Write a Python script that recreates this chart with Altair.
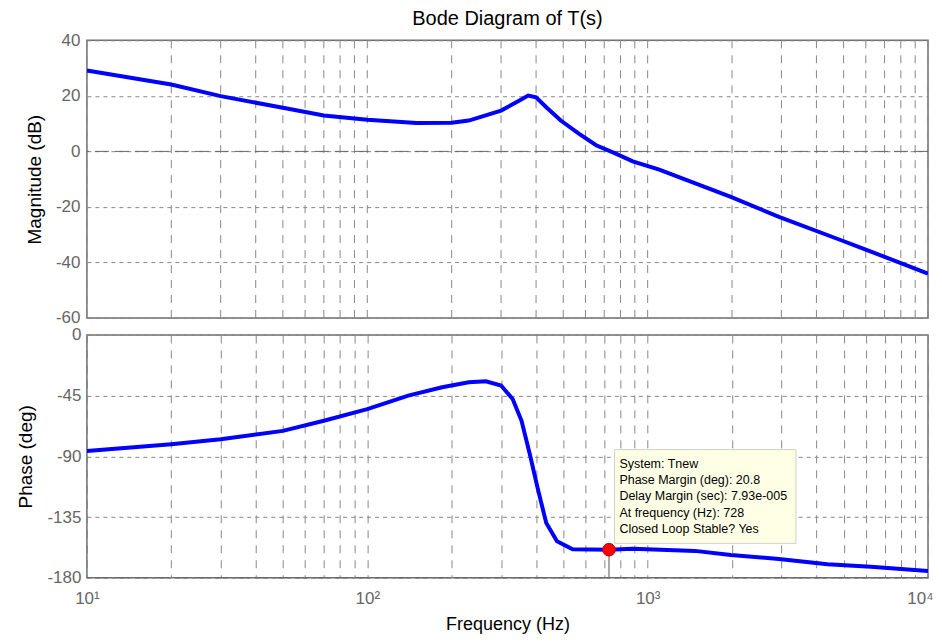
import altair as alt
import pandas as pd

# ---- data ----
freq_mag = [10, 20, 30, 50, 70, 100, 150, 200, 230, 300, 340, 375, 400, 435, 490, 570, 655, 770, 885, 1100, 1980, 2940, 4900, 5870, 10000]
mag_db = [29.1, 24.1, 19.9, 15.7, 12.9, 11.4, 10.2, 10.3, 11.1, 14.7, 17.7, 20.1, 19.5, 15.9, 11.1, 6.3, 2.2, -0.8, -3.6, -6.6, -16.4, -23.6, -32.0, -35.0, -44.0]

freq_ph = [10, 20, 30, 50, 70, 100, 140, 185, 230, 265, 300, 330, 355, 380, 405, 435, 475, 540, 728, 885, 1475, 1980, 2940, 4380, 6250, 10000]
phase_deg = [-86, -81, -77.3, -71.1, -63.6, -55, -45, -38.8, -35, -34.3, -37.5, -47.5, -63.6, -88.5, -113.4, -139.5, -153, -158.9, -159.2, -158.6, -160.1, -163.1, -166.1, -170, -171.8, -175]

pm_freq = [728]
pm_phase = [-159.2]

mag_ticks = [-60, -40, -20, 0, 20, 40]
phase_ticks = [-180, -135, -90, -45, 0]
decade_labels = {10: "10¹", 100: "10²", 1000: "10³", 10000: "10⁴"}

tip_lines = ["System: Tnew", "Phase Margin (deg): 20.8", "Delay Margin (sec): 7.93e-005",
             "At frequency (Hz): 728", "Closed Loop Stable? Yes"]
tip_box_freq = [762, 3381]
tip_box_phase = [-85.0, -154.5]
tip_text_freq = 793
tip_text_phase = [-95.5, -107.6, -119.7, -131.8, -143.9]

# ---- helpers ----
grid_vals = [m * 10 ** e for e in (1, 2, 3) for m in range(1, 10)] + [10000]
label_expr = " : ".join(f"datum.value == {k} ? '{v}'" for k, v in decade_labels.items()) + " : ''"

FONT = "Liberation Sans"
W = 842

xscale = alt.Scale(type="log", domain=[10, 10000], nice=False)

mag_df = pd.DataFrame({"f": freq_mag, "v": mag_db})
ph_df = pd.DataFrame({"f": freq_ph, "v": phase_deg})
pm_df = pd.DataFrame({"f": pm_freq, "v": pm_phase, "base": [-180]})
box_df = pd.DataFrame({"f1": [tip_box_freq[0]], "f2": [tip_box_freq[1]],
                       "p1": [tip_box_phase[0]], "p2": [tip_box_phase[1]]})
txt_df = pd.DataFrame({"f": [tip_text_freq] * len(tip_lines), "v": tip_text_phase, "t": tip_lines})
vgrid_df = pd.DataFrame({"f": grid_vals})

x_top = alt.X("f:Q", scale=xscale, axis=None)
x_bot = alt.X("f:Q", scale=xscale,
              axis=alt.Axis(values=grid_vals, labelExpr=label_expr, ticks=False,
                            title="Frequency  (Hz)", titlePadding=9, labelPadding=13,
                            labelFontSize=17, titleFontSize=18, labelFlush=False, labelOverlap=False,
                            labelAlign={"condition": {"test": "datum.value == 10000", "value": "right"},
                                        "value": "center"},
                            labelOffset={"condition": {"test": "datum.value == 10000", "value": 5},
                                         "value": 0},
                            grid=True, gridDash=[8, 7], gridColor="#888", domain=False))

y_mag = alt.Y("v:Q", scale=alt.Scale(domain=[-60, 40], nice=False),
              axis=alt.Axis(values=mag_ticks, title="Magnitude (dB)", titlePadding=11,
                            labelExpr="'' + datum.value",
                            grid=True, gridDash=[4, 4], gridColor="#888", ticks=False,
                            domain=False, labelPadding=7))
y_ph = alt.Y("v:Q", scale=alt.Scale(domain=[-180, 0], nice=False),
             axis=alt.Axis(values=phase_ticks, title="Phase (deg)", titlePadding=11,
                           labelExpr="'' + datum.value",
                           grid=True, gridDash=[4, 4], gridColor="#888", ticks=False,
                           domain=False, labelPadding=6))

vgrid = alt.Chart(vgrid_df).mark_rule(color="#888", strokeDash=[8, 7], strokeWidth=1).encode(x=x_top)
mag_line = alt.Chart(mag_df).mark_line(color="#0000ff", strokeWidth=4, clip=True).encode(x=x_top, y=y_mag)
zero_line = alt.Chart(pd.DataFrame({"v": [0]})).mark_rule(color="#666", strokeDash=[14, 6], strokeWidth=1).encode(y="v:Q")

top = alt.layer(vgrid, zero_line, mag_line).properties(
    width=W, height=278,
    title=alt.TitleParams("Bode Diagram of T(s)", font=FONT, fontSize=20, fontWeight="normal",
                          color="#000", frame="group", anchor="middle", offset=2))

ph_line = alt.Chart(ph_df).mark_line(color="#0000ff", strokeWidth=4, clip=True).encode(x=x_bot, y=y_ph)
m180 = alt.Chart(pd.DataFrame({"v": [-180]})).mark_rule(color="#666", strokeDash=[14, 6], strokeWidth=1).encode(y="v:Q")
pm_rule = alt.Chart(pm_df).mark_rule(color="#555", strokeWidth=1).encode(x="f:Q", y="v:Q", y2="base:Q")
pm_pt = alt.Chart(pm_df).mark_point(filled=True, color="#ff0000", size=160, opacity=1,
                                    stroke="#cc0000", strokeWidth=1).encode(x="f:Q", y="v:Q")
box = alt.Chart(box_df).mark_rect(fill="#ffffe6", stroke="#cfcfcf", strokeWidth=1).encode(
    x="f1:Q", x2="f2:Q", y="p1:Q", y2="p2:Q")
txt = alt.Chart(txt_df).mark_text(align="left", baseline="middle", font=FONT, fontSize=12.5,
                                  color="#000").encode(x="f:Q", y="v:Q", text="t:N")

bottom = alt.layer(m180, ph_line, pm_rule, box, txt, pm_pt).properties(width=W, height=243)

chart = alt.vconcat(top, bottom, spacing=17, bounds="flush").properties(
    padding={"left": 8, "top": 0, "right": 0, "bottom": 0}
).configure_view(stroke="#6e6e6e", strokeWidth=1.5).configure_axis(
    labelFont=FONT, labelFontSize=17, labelColor="#666",
    titleFont=FONT, titleFontSize=19, titleFontWeight="normal", titleColor="#000"
)

chart.save("out.html", embed_options={"renderer": "svg", "actions": False})
